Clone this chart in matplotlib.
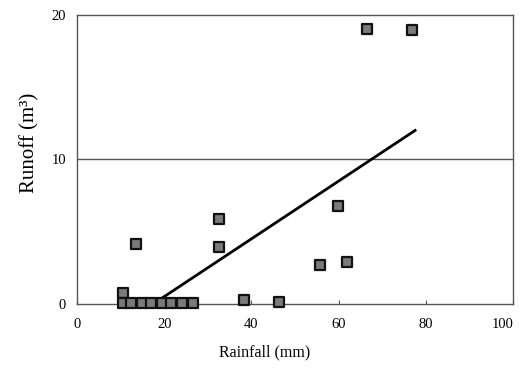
import matplotlib
matplotlib.use("Agg")
import matplotlib.pyplot as plt

# data
rainfall = [66.4, 76.9, 59.8, 32.6, 32.6, 13.5, 55.7, 61.9, 38.4, 46.2, 10.6,
            10.6, 12.5, 14.8, 17.0, 19.5, 21.5, 24.0, 26.5]
runoff = [19.0, 18.95, 6.75, 5.9, 3.95, 4.15, 2.7, 2.9, 0.28, 0.16, 0.75,
          0.05, 0.05, 0.05, 0.05, 0.05, 0.05, 0.05, 0.05]
trend_x = [19.0, 77.5]
trend_y = [0.3, 12.0]
xticks = [0, 20, 40, 60, 80, 100]
yticks = [0, 10, 20]

plt.rcParams['font.family'] = ['Liberation Serif', 'DejaVu Serif']

fig = plt.figure(figsize=(5.2, 3.71), dpi=100)
ax = fig.add_axes([0.148, 0.181, 0.839, 0.779])

ax.axhline(10, color='#555555', lw=1.0, zorder=1)
ax.plot(trend_x, trend_y, color='black', lw=2.0, zorder=2)
ax.scatter(rainfall, runoff, marker='s', s=44, facecolor='#7a7a7a',
           edgecolor='#111111', linewidths=1.6, zorder=3, clip_on=False)

ax.set_xlim(0, 100)
ax.set_ylim(0, 20)
ax.set_xticks(xticks)
ax.set_yticks(yticks)
for s in ax.spines.values():
    s.set_color('#555555')
    s.set_linewidth(1.0)
ax.tick_params(axis='x', direction='in', length=3, color='#555555', pad=10,
               labelsize=10.5)
ax.tick_params(axis='y', length=0, pad=8, labelsize=10.5)
xl = ax.get_xticklabels()
xl[-1].set_ha('right')

ax.set_xlabel('Rainfall (mm)', fontsize=11.5)
ax.xaxis.set_label_coords(0.431, -0.14)
ax.set_ylabel('Runoff (m³)', fontsize=15)
ax.yaxis.set_label_coords(-0.085, 0.557)

fig.savefig('out.png', dpi=100)
